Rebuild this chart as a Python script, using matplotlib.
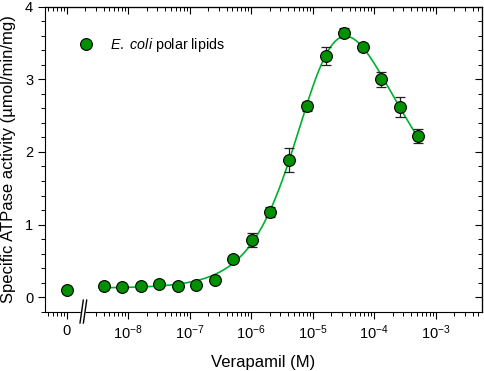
import numpy as np
import matplotlib
matplotlib.use("Agg")
import matplotlib.pyplot as plt
from matplotlib.ticker import FixedLocator, MultipleLocator, NullFormatter

plt.rcParams['font.family'] = ['Liberation Sans', 'DejaVu Sans']
plt.rcParams['mathtext.fontset'] = 'custom'
plt.rcParams['mathtext.rm'] = 'Liberation Sans'
plt.rcParams['mathtext.it'] = 'Liberation Sans:italic'

# control (no verapamil) is drawn at 1e-9 M and labelled "0"
zero_pos = 1e-9
zero_act = 0.10

conc = np.array([4e-9, 8e-9, 1.6e-8, 3.2e-8, 6.4e-8, 1.28e-7, 2.56e-7, 5.12e-7,
                 1.024e-6, 2.048e-6, 4.096e-6, 8.192e-6, 1.638e-5, 3.277e-5,
                 6.554e-5, 1.311e-4, 2.621e-4, 5.243e-4])
activity = np.array([0.156, 0.147, 0.156, 0.18, 0.15, 0.17, 0.235, 0.52,
                     0.79, 1.17, 1.89, 2.63, 3.32, 3.64,
                     3.45, 3.00, 2.62, 2.22])
err = np.array([0.0, 0.0, 0.0, 0.0, 0.0, 0.0, 0.0, 0.0,
                0.10, 0.07, 0.16, 0.06, 0.12, 0.06,
                0.03, 0.10, 0.14, 0.10])

tick_pos = [1e-9, 1e-8, 1e-7, 1e-6, 1e-5, 1e-4, 1e-3]
tick_lab = ["0", r"$10^{-8}$", r"$10^{-7}$", r"$10^{-6}$", r"$10^{-5}$",
            r"$10^{-4}$", r"$10^{-3}$"]


# bell-shaped activation / inhibition model, fitted to the points
def model(p, x):
    b, la, lk1, n, lk2, m = p
    lx = np.log10(x)
    s1 = 1.0 / (1.0 + 10 ** (n * (lk1 - lx)))
    s2 = 1.0 / (1.0 + 10 ** (m * (lx - lk2)))
    return b + 10 ** la * s1 * s2


def fit(x, y):
    p = np.array([0.16, 0.7, -5.3, 1.2, -4.0, 1.0])
    lam = 1e-2
    sse = np.sum((y - model(p, x)) ** 2)
    for _ in range(300):
        r = y - model(p, x)
        J = np.zeros((len(x), len(p)))
        for j in range(len(p)):
            dp = np.zeros(len(p))
            dp[j] = 1e-6
            J[:, j] = (model(p + dp, x) - model(p, x)) / 1e-6
        A = J.T @ J
        g = J.T @ r
        step = np.linalg.solve(A + lam * np.diag(np.diag(A) + 1e-12), g)
        pn = p + step
        pn[3] = np.clip(pn[3], 0.3, 4)
        pn[5] = np.clip(pn[5], 0.3, 4)
        s = np.sum((y - model(pn, x)) ** 2)
        if s < sse:
            p, sse = pn, s
            lam /= 3
        else:
            lam *= 3
    return p


params = fit(conc, activity)
xs = np.logspace(np.log10(conc[0]), np.log10(conc[-1]), 400)

fig = plt.figure(figsize=(4.84, 3.71), dpi=100)
ax = fig.add_axes([45 / 484, (371 - 311.7) / 371, (482 - 45) / 484, 305 / 371])

green = "#009000"
ax.plot(xs, model(params, xs), "-", color="#00b030", lw=1.2, zorder=2)
ax.errorbar(conc, activity, yerr=np.where(err > 0, err, np.nan), fmt="none",
            ecolor="#222222", elinewidth=0.9, capsize=3.5, capthick=0.9, zorder=3)
ax.plot(conc, activity, "o", color=green, mec="black", mew=0.8, ms=8.5, zorder=4,
        label=r"$\mathit{E.\ coli}$ polar lipids")
ax.plot([zero_pos], [zero_act], "o", color=green, mec="black", mew=0.8, ms=8.5, zorder=4)

ax.set_xscale("log")
lo = 10 ** (-9 - 21.5 / 61.5)
hi = 10 ** (-9 + 415.5 / 61.5)
ax.set_xlim(lo, hi)
ax.set_ylim(-0.2, 4)

minors = [k * 10.0 ** d for d in range(-10, -2) for k in range(2, 10)]
minors = [v for v in minors if lo < v < hi]
ax.xaxis.set_major_locator(FixedLocator(tick_pos))
ax.set_xticklabels(tick_lab)
ax.xaxis.set_minor_locator(FixedLocator([v for v in minors if abs(v - 2e-9) > 1e-12]))
ax.xaxis.set_minor_formatter(NullFormatter())
ax.yaxis.set_major_locator(MultipleLocator(1))
ax.yaxis.set_minor_locator(MultipleLocator(0.2))
ax.tick_params(which="major", direction="out", length=5, width=0.8, labelsize=10.5, top=False, right=False)
ax.tick_params(which="minor", direction="out", length=3, width=0.7, top=False, right=False)

# top / right duplicate axes with inward ticks
axt = ax.twiny()
axt.set_xscale("log")
axt.set_xlim(lo, hi)
axt.xaxis.set_major_locator(FixedLocator(tick_pos))
axt.xaxis.set_minor_locator(FixedLocator(minors))
axt.xaxis.set_major_formatter(NullFormatter())
axt.xaxis.set_minor_formatter(NullFormatter())
axt.tick_params(which="major", direction="in", length=5, width=0.8)
axt.tick_params(which="minor", direction="in", length=3, width=0.7)
axr = ax.twinx()
axr.set_ylim(-0.2, 4)
axr.yaxis.set_major_locator(MultipleLocator(1))
axr.yaxis.set_minor_locator(MultipleLocator(0.2))
axr.yaxis.set_major_formatter(NullFormatter())
axr.tick_params(which="major", direction="in", length=5, width=0.8)
axr.tick_params(which="minor", direction="in", length=3, width=0.7)
for a in (axt, axr):
    for side in ("bottom", "left"):
        a.spines[side].set_visible(False)

# axis break on the bottom spine
def px2x(px):
    return 10 ** (-9 + (px - 66.5) / 61.5)

y0, y1 = -0.037, 0.038
tr = ax.get_xaxis_transform()
ax.fill([px2x(80.0), px2x(83.3), px2x(86.7), px2x(83.4)], [y0, y1, y1, y0],
        color="white", transform=tr, clip_on=False, zorder=6)
for a, b in ((80.0, 83.3), (83.4, 86.7)):
    ax.plot([px2x(a), px2x(b)], [y0, y1], color="black", lw=1.0,
            transform=tr, clip_on=False, zorder=7)

ax.set_xlabel("Verapamil (M)", fontsize=12, labelpad=9)
ax.set_ylabel("Specific ATPase activity (\u00b5mol/min/mg)", fontsize=12, labelpad=6.3)

ax.legend(loc="upper left", bbox_to_anchor=(0.04, 0.945), frameon=False, fontsize=10.3,
          numpoints=1, handlelength=1.5, handletextpad=0.9)

fig.savefig("out.png", dpi=100)
